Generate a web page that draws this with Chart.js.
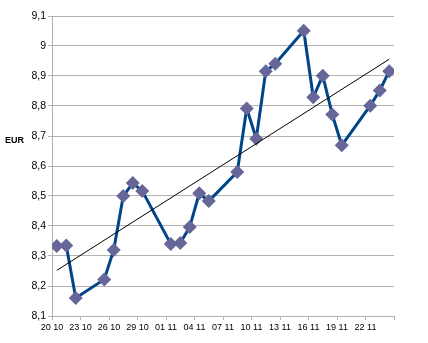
<!DOCTYPE html>
<html>
<head>
<meta charset="utf-8">
<script src="https://cdn.jsdelivr.net/npm/chart.js@4/dist/chart.umd.min.js"></script>
<style>
  html, body { margin: 0; padding: 0; background: #fff; }
  #wrap { width: 428px; height: 343px; position: relative; }
</style>
</head>
<body>
<div id="wrap"><canvas id="c" width="428" height="343"></canvas></div>
<script>
// Trading days, counted from 20 Oct (day 0); weekends are skipped
const dayOffsets = [0, 1, 2, 5, 6, 7, 8, 9, 12, 13, 14, 15, 16, 19, 20, 21, 22, 23, 26, 27, 28, 29, 30, 33, 34, 35];
// Daily rate, EUR
const rates = [8.333, 8.335, 8.16, 8.222, 8.32, 8.50, 8.543, 8.517, 8.34, 8.343, 8.397, 8.509, 8.483, 8.58,
               8.792, 8.691, 8.916, 8.941, 9.051, 8.829, 8.901, 8.772, 8.669, 8.801, 8.852, 8.916];
// Linear trend line, start and end values
const trendDays = [0, 35];
const trendValues = [8.252, 8.956];
// Date labels, one every three days
const tickLabels = ['20 10', '23 10', '26 10', '29 10', '01 11', '04 11', '07 11', '10 11', '13 11', '16 11', '19 11', '22 11', ''];

const gridColor = '#b3b3b3';
const FONT = '"Liberation Sans", Arial, sans-serif';

const ratePoints = dayOffsets.map((d, i) => ({ x: d + 0.5, y: rates[i] }));
const trendPoints = trendDays.map((d, i) => ({ x: d + 0.5, y: trendValues[i] }));

const unitLabel = {
  id: 'unitLabel',
  afterDraw(chart) {
    const ctx = chart.ctx;
    ctx.save();
    ctx.font = 'bold 9px ' + FONT;
    ctx.fillStyle = '#000';
    ctx.textAlign = 'left';
    ctx.textBaseline = 'middle';
    ctx.fillText('EUR', 5, 141);
    ctx.restore();
  }
};

new Chart(document.getElementById('c'), {
  type: 'scatter',
  data: {
    datasets: [
      {
        label: 'Trend',
        data: trendPoints,
        showLine: true,
        borderColor: '#000',
        borderWidth: 1,
        pointRadius: 0,
        order: 0
      },
      {
        label: 'EUR',
        data: ratePoints,
        showLine: true,
        tension: 0,
        borderColor: '#004586',
        borderWidth: 3,
        pointStyle: 'rectRot',
        pointRadius: 7,
        pointHoverRadius: 7,
        pointBackgroundColor: '#666699',
        pointBorderColor: '#666699',
        pointBorderWidth: 0,
        order: 1
      }
    ]
  },
  options: {
    responsive: false,
    animation: false,
    layout: { padding: { left: 0, right: 34, top: 16, bottom: 0 } },
    plugins: { legend: { display: false }, tooltip: { enabled: false } },
    scales: {
      x: {
        type: 'linear',
        min: 0,
        max: 36,
        afterFit(scale) { scale.height = 27; },
        afterBuildTicks(scale) {
          scale.ticks = tickLabels.map((_, i) => ({ value: i * 3 }));
        },
        ticks: {
          autoSkip: false,
          maxRotation: 0,
          color: '#000',
          padding: 2,
          font: { family: FONT, size: 9 },
          callback: (v) => tickLabels[Math.round(v / 3)] ?? ''
        },
        grid: { drawOnChartArea: false, color: gridColor, tickLength: 4 },
        border: { color: gridColor }
      },
      y: {
        min: 8.1,
        max: 9.1,
        afterFit(scale) { scale.width = 52; },
        ticks: {
          stepSize: 0.1,
          color: '#000',
          padding: 2,
          font: { family: FONT, size: 10.5 },
          callback: (v) => String(Number(v.toFixed(1))).replace('.', ',')
        },
        grid: { color: gridColor, tickLength: 4 },
        border: { color: gridColor }
      }
    }
  },
  plugins: [unitLabel]
});
</script>
</body>
</html>
